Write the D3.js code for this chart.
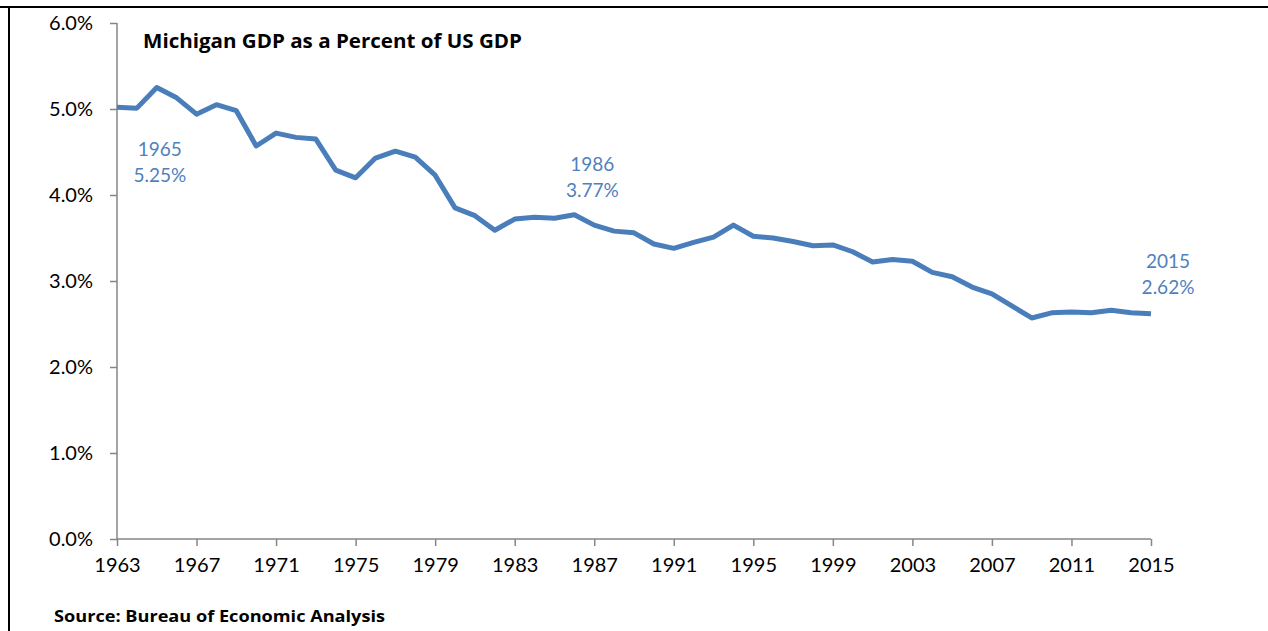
<!DOCTYPE html>
<html>
<head>
<meta charset="utf-8">
<script src="https://cdn.jsdelivr.net/npm/d3@7/dist/d3.min.js"></script>
<style>
  html, body { margin: 0; padding: 0; background: #fff; }
  svg { display: block; }
  text { font-family: Lato, "Open Sans", sans-serif; }
</style>
</head>
<body>
<svg id="chart" width="1268" height="631"></svg>
<script>
// Michigan GDP as a share of US GDP, 1963-2015 (percent)
const years = d3.range(1963, 2016);
const sharePct = [
  5.02, 5.01, 5.25, 5.13, 4.94, 5.05, 4.98, 4.57, 4.72, 4.67,
  4.65, 4.29, 4.20, 4.43, 4.51, 4.44, 4.23, 3.85, 3.76, 3.59,
  3.72, 3.74, 3.73, 3.77, 3.65, 3.58, 3.56, 3.43, 3.38, 3.45,
  3.51, 3.65, 3.52, 3.50, 3.46, 3.41, 3.42, 3.34, 3.22, 3.25,
  3.23, 3.10, 3.05, 2.93, 2.85, 2.71, 2.57, 2.63, 2.64, 2.63,
  2.66, 2.63, 2.62
];
const yTickValues = [0, 1, 2, 3, 4, 5, 6];
const xTickYears = d3.range(1963, 2016, 4);
const callouts = [
  { year: 1965, label: "1965", value: "5.25%", dx: 3, dy: 68 },
  { year: 1986, label: "1986", value: "3.77%", dx: 18, dy: -44 },
  { year: 2015, label: "2015", value: "2.62%", dx: 17, dy: -46 }
];
const titleText = "Michigan GDP as a Percent of US GDP";
const sourceText = "Source: Bureau of Economic Analysis";

const svg = d3.select("#chart");
const lineColor = "#4a7ebb";
const axisColor = "#868686";

const x = d3.scaleLinear().domain([1963, 2015]).range([117, 1151]);
const y = d3.scaleLinear().domain([0, 6]).range([539, 23]);

// outer frame (left and top edges visible)
svg.append("line").attr("x1", 9).attr("x2", 9).attr("y1", 7).attr("y2", 631)
  .attr("stroke", "#000").attr("stroke-width", 2);
svg.append("line").attr("x1", 0).attr("x2", 1268).attr("y1", 7).attr("y2", 7)
  .attr("stroke", "#000").attr("stroke-width", 2);

// y axis
const yAxis = svg.append("g").attr("transform", "translate(117,0)")
  .call(d3.axisLeft(y).tickValues(yTickValues).tickSize(7).tickPadding(17)
    .tickFormat(d => d.toFixed(1) + "%"));
// x axis
const xAxis = svg.append("g").attr("transform", "translate(0,539)")
  .call(d3.axisBottom(x).tickValues(xTickYears).tickSize(7).tickPadding(12)
    .tickFormat(d3.format("d")));

[yAxis, xAxis].forEach(g => {
  g.select(".domain").attr("stroke", axisColor).attr("stroke-width", 1.5);
  g.selectAll(".tick line").attr("stroke", axisColor).attr("stroke-width", 1.5);
  g.selectAll(".tick text").attr("fill", "#000").style("font-size", "20px")
    .style("font-family", "Lato, sans-serif");
});
xAxis.select(".domain").attr("d", "M117,0H1151");
yAxis.select(".domain").attr("d", "M0,23V539");

// series line
const line = d3.line().x((d, i) => x(years[i])).y(d => y(d));
svg.append("path").datum(sharePct)
  .attr("d", line)
  .attr("fill", "none")
  .attr("stroke", lineColor)
  .attr("stroke-width", 5)
  .attr("stroke-linejoin", "round");

// callout labels
callouts.forEach(c => {
  const v = sharePct[years.indexOf(c.year)];
  const cx = x(c.year) + c.dx;
  const cy = y(v) + c.dy;
  const t = svg.append("text").attr("text-anchor", "middle")
    .attr("fill", "#4f81bd").style("font-size", "19px");
  t.append("tspan").attr("x", cx).attr("y", cy).text(c.label);
  t.append("tspan").attr("x", cx).attr("y", cy + 26).text(c.value);
});

// title and source
svg.append("text").attr("x", 143).attr("y", 48)
  .style("font-family", "'Open Sans', sans-serif")
  .style("font-size", "19px").style("font-weight", "bold").attr("fill", "#000")
  .attr("textLength", 379).attr("lengthAdjust", "spacingAndGlyphs")
  .text(titleText);
svg.append("text").attr("x", 54).attr("y", 622)
  .style("font-family", "'Open Sans', sans-serif")
  .style("font-size", "16px").style("font-weight", "bold").attr("fill", "#000")
  .attr("textLength", 331).attr("lengthAdjust", "spacingAndGlyphs")
  .text(sourceText);
</script>
</body>
</html>
